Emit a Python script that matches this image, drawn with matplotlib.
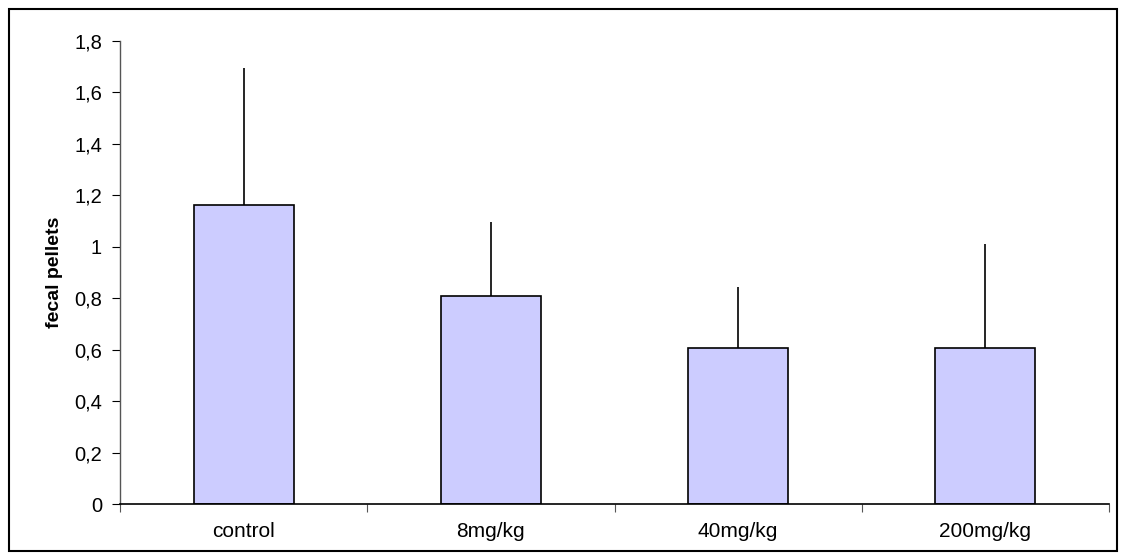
import matplotlib
matplotlib.use("Agg")
import matplotlib.pyplot as plt
from matplotlib.patches import Rectangle
from matplotlib.ticker import FuncFormatter, FixedLocator

# data
groups = ["control", "8mg/kg", "40mg/kg", "200mg/kg"]
means = [1.163, 0.810, 0.607, 0.607]
errors = [0.531, 0.287, 0.235, 0.402]
yticks = [0, 0.2, 0.4, 0.6, 0.8, 1.0, 1.2, 1.4, 1.6, 1.8]


def comma_fmt(v, pos):
    # european style decimals, integers without fraction
    if abs(v - round(v)) < 1e-9:
        return str(int(round(v)))
    return f"{v:.1f}".replace(".", ",")


plt.rcParams["font.family"] = ["Liberation Sans", "DejaVu Sans"]

fig = plt.figure(figsize=(11.25, 5.6), dpi=100)
ax = fig.add_axes([0.1067, 0.1, 0.8791, 0.8268])

x = list(range(len(groups)))
ax.bar(x, means, width=0.405, color="#CCCCFF", edgecolor="black", linewidth=1.2, zorder=2)
ax.errorbar(x, means, yerr=[[0] * len(errors), errors], fmt="none",
            ecolor="black", elinewidth=1.2, capsize=0, zorder=3)

ax.set_xlim(-0.5, len(groups) - 0.5)
ax.set_ylim(0, 1.8)
ax.set_yticks(yticks)
ax.yaxis.set_major_formatter(FuncFormatter(comma_fmt))

# category labels centered, tick marks between categories
ax.xaxis.set_major_locator(FixedLocator([i - 0.5 for i in range(len(groups) + 1)]))
ax.set_xticklabels([])
ax.xaxis.set_minor_locator(FixedLocator(x))
ax.set_xticklabels(groups, minor=True)
ax.tick_params(axis="x", which="minor", length=0, labelsize=15, pad=13)
ax.tick_params(axis="x", which="major", length=6, color="#555555", direction="out")
ax.tick_params(axis="y", length=6, labelsize=14.5, direction="out", color="black", pad=7)

for s in ["top", "right"]:
    ax.spines[s].set_visible(False)
ax.spines["left"].set_color("#555555")
ax.spines["bottom"].set_color("black")
ax.spines["left"].set_linewidth(1.0)
ax.spines["bottom"].set_linewidth(1.2)

ax.set_ylabel("fecal pellets", fontsize=14, fontweight="bold", labelpad=8)

# frame around the whole chart
fig.patches.append(Rectangle((0.008, 0.0161), 0.985, 0.968, transform=fig.transFigure,
                             fill=False, edgecolor="black", linewidth=1.5))

plt.savefig("out.png", dpi=100)
